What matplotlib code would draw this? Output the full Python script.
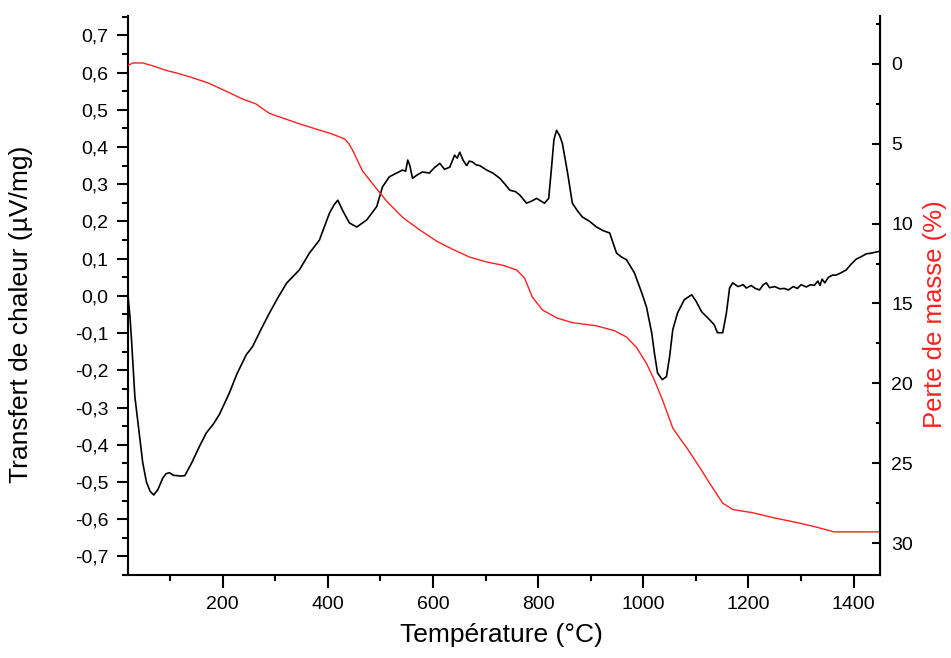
import numpy as np
import matplotlib
matplotlib.use('Agg')
import matplotlib.pyplot as plt
from matplotlib.ticker import MultipleLocator, FuncFormatter

plt.rcParams['font.family'] = ['Liberation Sans', 'DejaVu Sans']

# DTA curve (heat flow, left axis)
dta_temp = [20, 24, 27, 33, 42, 48, 55, 62, 69, 77, 86, 92, 99, 106, 113, 120, 128, 141,
            156, 169, 182, 194, 213, 227, 245, 257, 273, 289, 305, 322, 346, 365,
            384, 403, 412, 419, 428, 441, 455, 474, 493, 504, 517, 531, 542, 548,
            552, 556, 561, 570, 580, 593, 603, 613, 622, 632, 641, 646, 651, 657,
            664, 669, 675, 682, 689, 702, 714, 727, 737, 746, 757, 765, 778, 788,
            797, 805, 812, 820, 825, 830, 835, 841, 846, 856, 865, 875, 884, 898,
            911, 924, 936, 949, 958, 968, 983, 997, 1006, 1016, 1021, 1027, 1036,
            1044, 1050, 1056, 1065, 1078, 1092, 1101, 1111, 1126, 1135, 1141, 1151,
            1158, 1164, 1170, 1180, 1190, 1196, 1205, 1213, 1221, 1228, 1234, 1240,
            1250, 1259, 1268, 1276, 1285, 1293, 1300, 1310, 1318, 1325, 1332, 1336,
            1340, 1345, 1352, 1360, 1367, 1376, 1386, 1395, 1405, 1414, 1424, 1434,
            1443, 1450]
dta_val = [0.0, -0.06, -0.126, -0.27, -0.378, -0.448, -0.50, -0.525, -0.535, -0.52,
           -0.49, -0.478, -0.475, -0.482, -0.483, -0.484, -0.483, -0.449,
           -0.404, -0.368, -0.345, -0.318, -0.26, -0.21, -0.158, -0.136, -0.09,
           -0.046, -0.005, 0.035, 0.07, 0.115, 0.15, 0.222, 0.245, 0.257, 0.23,
           0.196, 0.185, 0.204, 0.24, 0.293, 0.32, 0.33, 0.338, 0.335, 0.365,
           0.35, 0.316, 0.325, 0.333, 0.33, 0.345, 0.356, 0.34, 0.346, 0.378,
           0.37, 0.386, 0.365, 0.35, 0.362, 0.36, 0.352, 0.35, 0.338, 0.33, 0.316,
           0.3, 0.284, 0.28, 0.271, 0.249, 0.255, 0.262, 0.255, 0.249, 0.262,
           0.338, 0.42, 0.445, 0.43, 0.41, 0.33, 0.249, 0.228, 0.212, 0.2, 0.185,
           0.175, 0.169, 0.115, 0.105, 0.097, 0.062, 0.008, -0.03, -0.1, -0.153,
           -0.207, -0.225, -0.217, -0.163, -0.091, -0.046, -0.01, 0.003, -0.016,
           -0.043, -0.064, -0.078, -0.099, -0.099, -0.046, 0.021, 0.035, 0.025,
           0.03, 0.021, 0.028, 0.02, 0.016, 0.03, 0.035, 0.022, 0.025, 0.019, 0.02,
           0.016, 0.025, 0.02, 0.03, 0.024, 0.03, 0.028, 0.04, 0.028, 0.045, 0.035,
           0.05, 0.056, 0.056, 0.062, 0.07, 0.085, 0.099, 0.105, 0.113, 0.115,
           0.118, 0.12]

# TG curve (mass loss, right axis, inverted)
tg_temp = [20, 29, 48, 67, 92, 116, 143, 173, 206, 238, 263, 289, 346, 409, 432,
           440, 447, 466, 485, 512, 542, 575, 607, 637, 670, 702, 732, 759, 774,
           789, 808, 835, 865, 911, 945, 968, 987, 1006, 1021, 1036, 1056, 1073,
           1082, 1107, 1126, 1151, 1170, 1208, 1246, 1297, 1329, 1363, 1375, 1450]
tg_val = [0.1, -0.06, -0.06, 0.12, 0.4, 0.6, 0.87, 1.2, 1.7, 2.2, 2.5, 3.1, 3.75,
          4.4, 4.7, 5.0, 5.4, 6.7, 7.5, 8.6, 9.6, 10.4, 11.1, 11.6, 12.1, 12.4,
          12.6, 12.9, 13.4, 14.6, 15.4, 15.9, 16.2, 16.4, 16.7, 17.1, 17.75, 18.75,
          19.8, 21.0, 22.8, 23.6, 24.0, 25.25, 26.25, 27.5, 27.9, 28.1, 28.4,
          28.75, 29.0, 29.3, 29.3, 29.3]

fig = plt.figure(figsize=(9.51, 6.58), dpi=100)
ax = fig.add_axes([0.1346, 0.1261, 0.7907, 0.8496])
ax.plot(dta_temp, dta_val, color='black', lw=1.2)
ax.set_xlim(20, 1450)
ax.set_ylim(-0.75, 0.752)

ax2 = ax.twinx()
ax2.plot(tg_temp, tg_val, color='#ff2020', lw=1.0)
ax2.set_ylim(32, -3)

ax.spines['top'].set_visible(False)
ax2.spines['top'].set_visible(False)
for sp in ['left', 'bottom']:
    ax.spines[sp].set_linewidth(1.5)
ax2.spines['right'].set_linewidth(1.5)
ax2.spines['left'].set_visible(False)
ax2.spines['bottom'].set_visible(False)

ax.xaxis.set_major_locator(MultipleLocator(200))
ax.xaxis.set_minor_locator(MultipleLocator(100))
ax.yaxis.set_major_locator(MultipleLocator(0.1))
ax.yaxis.set_minor_locator(MultipleLocator(0.05))
ax.yaxis.set_major_formatter(FuncFormatter(lambda v, p: f'{v:.1f}'.replace('.', ',').replace('-0,0', '0,0')))
ax2.yaxis.set_major_locator(MultipleLocator(5))
ax2.yaxis.set_minor_locator(MultipleLocator(2.5))

ax.tick_params(axis='both', which='major', direction='out', length=8, width=1.5, labelsize=14)
ax.tick_params(axis='both', which='minor', direction='out', length=4.5, width=1.5)
ax.tick_params(axis='y', which='major', pad=6)
ax.tick_params(axis='x', which='major', length=9, pad=6)
ax2.tick_params(axis='y', which='major', direction='in', length=6, width=1.5, labelsize=14, pad=8)
ax2.tick_params(axis='y', which='minor', direction='in', length=3, width=1.5)

ax.set_xlabel('Température (°C)', fontsize=19)
ax.set_ylabel('Transfert de chaleur (µV/mg)', fontsize=19)
ax2.set_ylabel('Perte de masse (%)', fontsize=18.5, color='#ff2020')
ax.xaxis.set_label_coords(0.497, -0.085)
ax.yaxis.set_label_coords(-0.126, 0.467)
ax2.yaxis.set_label_coords(1.057, 0.467)

fig.savefig('out.png', dpi=100)
